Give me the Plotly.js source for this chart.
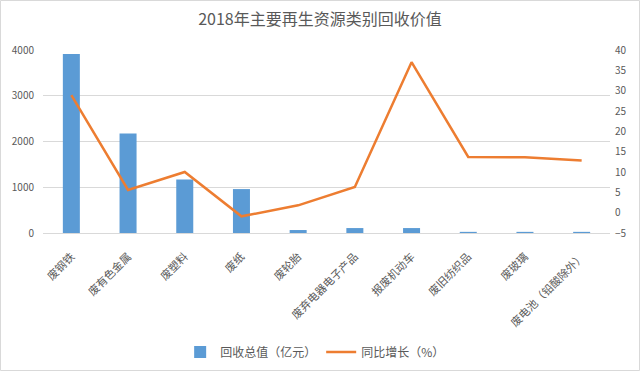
<!DOCTYPE html>
<html>
<head>
<meta charset="utf-8">
<script src="https://cdn.plot.ly/plotly-3.0.1.min.js"></script>
<style>body{margin:0;padding:0;background:#fff;} #chart{width:640px;height:371px;}</style>
</head>
<body>
<div id="chart"></div>
<script>
const categories = ["废钢铁","废有色金属","废塑料","废纸","废轮胎","废弃电器电子产品","报废机动车","废旧纺织品","废玻璃","废电池（铅酸除外）"];
const recycleValue = [3915, 2175, 1170, 960, 65, 108, 108, 25, 25, 25];
const growthRate = [28.9, 5.6, 10.0, -0.9, 1.8, 6.3, 37.0, 13.7, 13.6, 12.8];
const seriesNames = ["回收总值（亿元）", "同比增长（%）"];
const titleText = "2018年主要再生资源类别回收价值";

const W = 640, H = 371;
const m = {l: 43, r: 30, t: 50, b: 138, autoexpand: false};
const pw = W - m.l - m.r, ph = H - m.t - m.b;
const font = "'Noto Sans CJK SC', 'Noto Sans', sans-serif";
const grey = "#595959";

const traces = [
  {type: "bar", x: categories, y: recycleValue, name: seriesNames[0],
   marker: {color: "#5B9BD5"}, yaxis: "y"},
  {type: "scatter", mode: "lines", x: categories, y: growthRate, name: seriesNames[1],
   line: {color: "#ED7D31", width: 2.5}, yaxis: "y2"}
];

const layout = {
  width: W, height: H,
  margin: m,
  paper_bgcolor: "#fff", plot_bgcolor: "#fff",
  font: {family: font, size: 10, color: grey},
  title: {text: titleText, x: 0.5, xanchor: "center", y: 1 - 19/H, yanchor: "middle",
          font: {family: font, size: 16, color: grey}, automargin: false},
  bargap: 0.7,
  showlegend: true,
  legend: {orientation: "h", x: 0.48, xanchor: "center", y: (ph - (352 - m.t)) / ph, yanchor: "middle",
           font: {family: font, size: 12, color: grey}, traceorder: "normal", itemwidth: 30},
  xaxis: {type: "category", tickangle: -45, showgrid: false, showline: true, linecolor: "#d9d9d9",
          ticks: "", tickfont: {size: 11, color: grey}, ticklabelstandoff: 12, automargin: false},
  yaxis: {range: [0, 4000], dtick: 1000, showgrid: true, gridcolor: "#d9d9d9", zeroline: false,
          showline: false, ticks: "", tickfont: {size: 10, color: grey}, ticklabelstandoff: 8, automargin: false},
  yaxis2: {range: [-5, 40], dtick: 5, overlaying: "y", side: "right", showgrid: false,
           zeroline: false, showline: false, ticks: "", tickfont: {size: 10, color: grey}, ticklabelstandoff: 4, automargin: false},
  shapes: [{type: "rect", xref: "paper", yref: "paper", layer: "below",
            x0: (0.5 - m.l)/pw, x1: (W - 0.5 - m.l)/pw,
            y0: (ph - (H - 0.5 - m.t))/ph, y1: (ph + m.t - 0.5)/ph,
            line: {color: "#d9d9d9", width: 1}}]
};

Plotly.newPlot("chart", traces, layout, {staticPlot: true, displayModeBar: false});
</script>
</body>
</html>
